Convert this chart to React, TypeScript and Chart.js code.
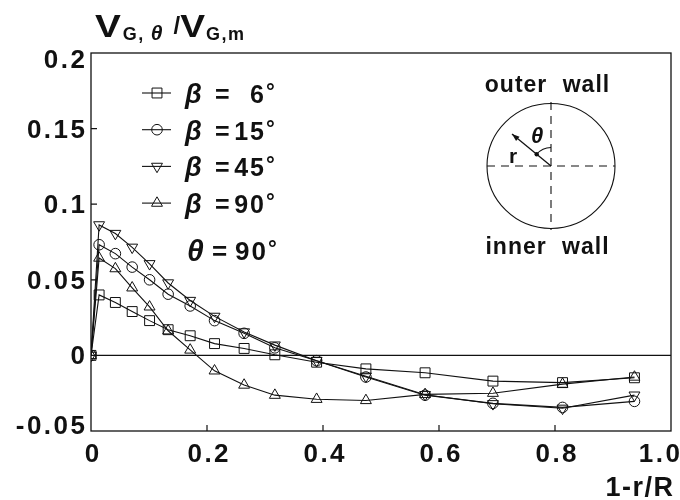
import { useEffect, useRef } from "react";
import { Chart, registerables } from "chart.js";

Chart.register(...registerables);

// Radial positions 1 - r/R where the profiles were measured
const radialPos = [0, 0.014, 0.042, 0.071, 0.101, 0.133, 0.171, 0.213, 0.264, 0.317, 0.389, 0.474, 0.576, 0.693, 0.813, 0.937];

// Circumferential velocity ratio V_G,θ / V_G,m at θ = 90°
const beta6 = [0, 0.040, 0.035, 0.029, 0.023, 0.017, 0.013, 0.0078, 0.0046, 0.0004, -0.0045, -0.0089, -0.0115, -0.017, -0.018, -0.0148];
const beta15 = [0, 0.0732, 0.0673, 0.0584, 0.050, 0.0405, 0.0327, 0.023, 0.0146, 0.005, -0.0035, -0.0143, -0.0263, -0.0317, -0.0344, -0.0304];
const beta45 = [0, 0.0863, 0.0806, 0.0715, 0.0606, 0.0479, 0.0363, 0.0258, 0.0155, 0.0068, -0.0035, -0.0138, -0.026, -0.032, -0.035, -0.0263];
const beta90 = [0, 0.0644, 0.0574, 0.0447, 0.0321, 0.0163, 0.0036, -0.0102, -0.0196, -0.0263, -0.029, -0.0298, -0.0258, -0.025, -0.019, -0.0143];

const seriesAngles = ["6", "15", "45", "90"];
const seriesValues = [beta6, beta15, beta45, beta90];
const seriesMarkers = ["rect", "circle", "triangle", "triangle"];
const seriesRotation = [0, 0, 180, 0];
const seriesRadius = [7, 5.3, 6.3, 6.3];

const xTickValues = [0, 0.2, 0.4, 0.6, 0.8, 1.0];
const xTickLabels = ["0", "0.2", "0.4", "0.6", "0.8", "1.0"];
const yTickValues = [-0.05, 0, 0.05, 0.1, 0.15, 0.2];
const yTickLabels = ["-0.05", "0", "0.05", "0.1", "0.15", "0.2"];

const FONT = '"Liberation Sans", Arial, sans-serif';
const INK = "#111";

type Align = "left" | "center" | "right";

// Draws text one glyph at a time so letter spacing stays consistent.
function spaced(ctx: CanvasRenderingContext2D, text: string, x: number, y: number, align: Align, spacing: number, wordGap = 0) {
  const chars = [...text];
  const widths = chars.map((ch) => ctx.measureText(ch).width + (ch === " " ? wordGap : 0));
  const total = widths.reduce((a, b) => a + b, 0) + spacing * (chars.length - 1);
  let cx = align === "left" ? x : align === "center" ? x - total / 2 : x - total;
  ctx.textAlign = "left";
  chars.forEach((ch, i) => {
    ctx.fillText(ch, cx, y);
    cx += widths[i] + spacing;
  });
  return cx;
}

// Draws a glyph stretched horizontally; returns the x after it.
function wide(ctx: CanvasRenderingContext2D, text: string, x: number, y: number, sx: number) {
  const w = ctx.measureText(text).width * sx;
  ctx.save();
  ctx.translate(x, y);
  ctx.scale(sx, 1);
  ctx.textAlign = "left";
  ctx.fillText(text, 0, 0);
  ctx.restore();
  return x + w;
}

// Legend symbols, shaped like Chart.js point styles of the same radius.
function drawMarker(ctx: CanvasRenderingContext2D, style: string, rotation: number, radius: number, x: number, y: number) {
  ctx.save();
  ctx.lineWidth = 1;
  ctx.beginPath();
  if (style === "rect") {
    const s = radius * Math.SQRT1_2;
    ctx.rect(x - s, y - s, 2 * s, 2 * s);
  } else if (style === "circle") {
    ctx.arc(x, y, radius, 0, Math.PI * 2);
  } else {
    const rot = (rotation * Math.PI) / 180;
    for (let k = 0; k < 3; k++) {
      const t = rot - Math.PI / 2 + (k * 2 * Math.PI) / 3;
      const px = x + radius * Math.cos(t);
      const py = y + radius * Math.sin(t);
      if (k === 0) ctx.moveTo(px, py);
      else ctx.lineTo(px, py);
    }
    ctx.closePath();
  }
  ctx.stroke();
  ctx.restore();
}

const decorations = {
  id: "decorations",
  beforeDatasetsDraw(chart: Chart) {
    const { ctx, chartArea: a } = chart;
    const xs = chart.scales.x;
    const ys = chart.scales.y;
    ctx.save();
    ctx.strokeStyle = INK;
    // plot frame
    ctx.lineWidth = 1.3;
    ctx.strokeRect(a.left, a.top, a.right - a.left, a.bottom - a.top);
    // zero line
    ctx.lineWidth = 1.1;
    const y0 = ys.getPixelForValue(0);
    ctx.beginPath();
    ctx.moveTo(a.left, y0);
    ctx.lineTo(a.right, y0);
    ctx.stroke();
    // inner tick marks
    ctx.lineWidth = 1.2;
    ctx.beginPath();
    yTickValues.forEach((v) => {
      if (v <= 0 || v >= 0.2) return;
      const py = ys.getPixelForValue(v);
      ctx.moveTo(a.left, py);
      ctx.lineTo(a.left + 6, py);
    });
    xTickValues.forEach((v) => {
      if (v <= 0 || v >= 1) return;
      const px = xs.getPixelForValue(v);
      ctx.moveTo(px, a.bottom);
      ctx.lineTo(px, a.bottom - 6);
    });
    ctx.stroke();
    ctx.restore();
  },
  afterDraw(chart: Chart) {
    const { ctx, chartArea: a, width } = chart;
    const xs = chart.scales.x;
    const ys = chart.scales.y;
    ctx.save();
    ctx.fillStyle = INK;
    ctx.strokeStyle = INK;
    ctx.textBaseline = "alphabetic";

    // tick labels
    ctx.font = `bold 26px ${FONT}`;
    yTickValues.forEach((v, i) => {
      let py = ys.getPixelForValue(v) + 9;
      if (i === yTickValues.length - 1) py += 6;
      if (i === 0) py -= 6;
      spaced(ctx, yTickLabels[i], a.left - 6, py, "right", 2.5);
    });
    xTickValues.forEach((v, i) => {
      const px = xs.getPixelForValue(v);
      if (i === xTickValues.length - 1) spaced(ctx, xTickLabels[i], width, a.bottom + 31, "right", 2.5);
      else spaced(ctx, xTickLabels[i], px + 1, a.bottom + 31, "center", 2.5);
    });

    // axis titles
    ctx.font = `bold 27px ${FONT}`;
    spaced(ctx, "1-r/R", a.right + 2, a.bottom + 65, "right", 1.5);

    ctx.font = `bold 31px ${FONT}`;
    let tx = wide(ctx, "V", a.left + 4, 37, 1.25);
    ctx.font = `bold 18px ${FONT}`;
    tx = spaced(ctx, "G,", tx + 2, 40, "left", 1.5);
    ctx.font = `italic bold 21px ${FONT}`;
    tx = spaced(ctx, "θ", tx + 6, 40, "left", 0);
    ctx.font = `bold 24px ${FONT}`;
    tx = spaced(ctx, "/", tx + 11, 34, "left", 0);
    ctx.font = `bold 31px ${FONT}`;
    tx = wide(ctx, "V", tx, 37, 1.2);
    ctx.font = `bold 18px ${FONT}`;
    spaced(ctx, "G,m", tx + 1, 40, "left", 1.5);

    // legend
    const lx = a.left + 66;
    seriesAngles.forEach((ang, i) => {
      const cy = a.top + 40 + i * 36.7;
      ctx.lineWidth = 1.1;
      ctx.beginPath();
      ctx.moveTo(lx - 15, cy);
      ctx.lineTo(lx + 14, cy);
      ctx.stroke();
      drawMarker(ctx, seriesMarkers[i], seriesRotation[i], seriesRadius[i], lx, cy);
      ctx.font = `italic bold 27px ${FONT}`;
      spaced(ctx, "β", a.left + 94, cy + 10, "left", 0);
      ctx.font = `bold 25px ${FONT}`;
      spaced(ctx, "=", a.left + 124, cy + 10, "left", 0);
      spaced(ctx, ang, a.left + 173, cy + 10, "right", 2);
      ctx.font = `bold 22px ${FONT}`;
      spaced(ctx, "°", a.left + 175, cy + 6, "left", 0);
    });
    const ty = a.top + 197;
    ctx.font = `italic bold 30px ${FONT}`;
    spaced(ctx, "θ", a.left + 96, ty + 11, "left", 0);
    ctx.font = `bold 26px ${FONT}`;
    spaced(ctx, "=", a.left + 121, ty + 10, "left", 0);
    spaced(ctx, "90", a.left + 175, ty + 10, "right", 2);
    ctx.font = `bold 22px ${FONT}`;
    spaced(ctx, "°", a.left + 177, ty + 6, "left", 0);

    // cross-section sketch
    const cx = a.right - 120;
    const cy = a.top + 113;
    const R = 63;
    ctx.font = `bold 23px ${FONT}`;
    spaced(ctx, "outer wall", cx - 4, a.top + 39, "center", 1, 8);
    spaced(ctx, "inner wall", cx - 4, a.top + 201, "center", 1, 8);
    ctx.lineWidth = 1.1;
    ctx.beginPath();
    ctx.ellipse(cx, cy, R + 1, R - 0.5, 0, 0, Math.PI * 2);
    ctx.stroke();
    ctx.setLineDash([8, 6]);
    ctx.beginPath();
    ctx.moveTo(cx - R - 1, cy);
    ctx.lineTo(cx + R + 1, cy);
    ctx.moveTo(cx, cy - R - 1);
    ctx.lineTo(cx, cy + R + 1);
    ctx.stroke();
    ctx.setLineDash([]);
    // radius arrow
    const ex = cx - 39;
    const ey = cy - 32;
    const ang = Math.atan2(ey - cy, ex - cx);
    ctx.lineWidth = 1.3;
    ctx.beginPath();
    ctx.moveTo(cx, cy);
    ctx.lineTo(ex, ey);
    ctx.stroke();
    ctx.beginPath();
    ctx.moveTo(ex, ey);
    ctx.lineTo(ex + 8 * Math.cos(ang + Math.PI - 0.35), ey + 8 * Math.sin(ang + Math.PI - 0.35));
    ctx.lineTo(ex + 8 * Math.cos(ang + Math.PI + 0.35), ey + 8 * Math.sin(ang + Math.PI + 0.35));
    ctx.closePath();
    ctx.fill();
    ctx.beginPath();
    ctx.arc(cx + 18.5 * Math.cos(ang), cy + 18.5 * Math.sin(ang), 2.2, 0, Math.PI * 2);
    ctx.fill();
    ctx.lineWidth = 1.1;
    ctx.beginPath();
    ctx.arc(cx, cy, 18.5, ang, -Math.PI / 2);
    ctx.stroke();
    ctx.font = `italic bold 22px ${FONT}`;
    spaced(ctx, "θ", cx - 20, cy - 23, "left", 0);
    ctx.font = `bold 21px ${FONT}`;
    spaced(ctx, "r", cx - 42, cy - 3, "left", 0);

    ctx.restore();
  },
};

export default function App() {
  const canvasRef = useRef<HTMLCanvasElement | null>(null);

  useEffect(() => {
    document.body.style.margin = "0";
    const canvas = canvasRef.current;
    if (!canvas) return;
    const datasets = seriesValues.map((vals, i) => ({
      label: `β = ${seriesAngles[i]}°`,
      data: vals.map((y, k) => ({ x: radialPos[k], y })),
      showLine: true,
      tension: 0,
      borderColor: INK,
      borderWidth: 1.1,
      pointStyle: seriesMarkers[i] as any,
      rotation: seriesRotation[i],
      pointRadius: seriesRadius[i],
      pointBorderWidth: 1,
      pointBorderColor: INK,
      pointBackgroundColor: "rgba(0,0,0,0)",
    }));
    const chart = new Chart(canvas, {
      type: "scatter",
      data: { datasets },
      options: {
        animation: false,
        responsive: false,
        devicePixelRatio: 1,
        layout: { padding: { left: 91, right: 9, top: 53, bottom: 69 } },
        plugins: { legend: { display: false }, tooltip: { enabled: false } },
        scales: {
          x: { type: "linear", min: 0, max: 1.0, display: false },
          y: { type: "linear", min: -0.05, max: 0.2, display: false },
        },
      },
      plugins: [decorations],
    });
    return () => chart.destroy();
  }, []);

  return (
    <div style={{ width: 680, height: 500, background: "#fff" }}>
      <canvas ref={canvasRef} width={680} height={500} />
    </div>
  );
}
